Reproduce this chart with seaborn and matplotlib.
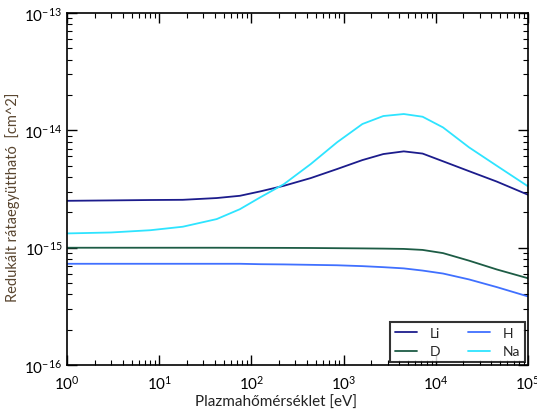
import matplotlib
matplotlib.use("Agg")
import matplotlib.pyplot as plt
import seaborn as sns
import pandas as pd

# Plasma temperature [eV]
temps = [1, 3, 8, 18, 42, 75, 125, 225, 440, 850, 1600, 2700, 4500, 7200,
         12000, 23000, 46000, 100000]

# Reduced rate coefficients [cm^2]
li = [2.51e-15, 2.53e-15, 2.55e-15, 2.56e-15, 2.65e-15, 2.77e-15, 3.02e-15, 3.37e-15,
      3.92e-15, 4.68e-15, 5.58e-15, 6.28e-15, 6.62e-15, 6.34e-15, 5.45e-15, 4.49e-15,
      3.66e-15, 2.83e-15]
na = [1.324e-15, 1.349e-15, 1.41e-15, 1.51e-15, 1.754e-15, 2.13e-15, 2.69e-15, 3.48e-15,
      5.16e-15, 7.91e-15, 1.132e-14, 1.324e-14, 1.377e-14, 1.306e-14, 1.059e-14, 7.16e-15,
      4.99e-15, 3.34e-15]
d = [1.00e-15, 1.00e-15, 1.00e-15, 1.00e-15, 1.00e-15, 0.999e-15, 0.998e-15, 0.997e-15,
     0.995e-15, 0.991e-15, 0.987e-15, 0.983e-15, 0.977e-15, 0.958e-15, 0.900e-15,
     0.776e-15, 0.653e-15, 0.550e-15]
h = [7.30e-16, 7.30e-16, 7.30e-16, 7.30e-16, 7.30e-16, 7.30e-16, 7.24e-16, 7.21e-16,
     7.15e-16, 7.09e-16, 6.97e-16, 6.83e-16, 6.67e-16, 6.39e-16, 6.03e-16, 5.37e-16,
     4.62e-16, 3.85e-16]

series_names = ["Li", "D", "H", "Na"]
colors = {"Li": "#1c1c8c", "D": "#1d5c45", "H": "#4070ff", "Na": "#2ee4ff"}

frames = []
for name, vals in zip(series_names, [li, d, h, na]):
    frames.append(pd.DataFrame({"T": temps, "k": vals, "elem": name}))
df = pd.concat(frames, ignore_index=True)

sns.set_style("ticks")
plt.rcParams["font.family"] = ["Lato", "DejaVu Sans"]
plt.rcParams["mathtext.fontset"] = "custom"
plt.rcParams["mathtext.rm"] = "Lato"
plt.rcParams["mathtext.it"] = "Lato:italic"
plt.rcParams["mathtext.bf"] = "Lato:bold"

fig = plt.figure(figsize=(5.37, 4.10), dpi=100)
ax = fig.add_axes([0.125, 0.107, 0.858, 0.859])

sns.lineplot(data=df, x="T", y="k", hue="elem", hue_order=series_names,
             palette=colors, ax=ax, linewidth=1.3, estimator=None, sort=True)

ax.set_xscale("log")
ax.set_yscale("log")
ax.set_xlim(1, 1e5)
ax.set_ylim(1e-16, 1e-13)

for s in ax.spines.values():
    s.set_visible(True)
    s.set_linewidth(1.2)
    s.set_color("black")

ax.tick_params(which="both", direction="in", top=True, right=True, colors="black",
               labelsize=11)
ax.tick_params(which="major", length=7, width=1)
ax.tick_params(which="minor", length=3.5, width=0.8)
ax.tick_params(axis="x", pad=6)

ax.set_xlabel("Plazmahőmérséklet [eV]", fontsize=11, color="#222222")
ax.xaxis.set_label_coords(0.453, -0.085)
ax.set_ylabel("Redukált rátaegyüttható  [cm^2]", fontsize=10.5, color="#5a4630")
ax.yaxis.set_label_coords(-0.102, 0.48)

handles, labels = ax.get_legend_handles_labels()
leg = ax.legend(handles, labels, loc="lower right", ncol=2, fontsize=10,
                frameon=True, fancybox=False, edgecolor="black",
                borderaxespad=0.2, handlelength=1.6, handletextpad=0.9,
                columnspacing=2.0, borderpad=0.35, labelspacing=0.45)
leg.get_frame().set_linewidth(1.5)

fig.savefig("out.png", dpi=100)
